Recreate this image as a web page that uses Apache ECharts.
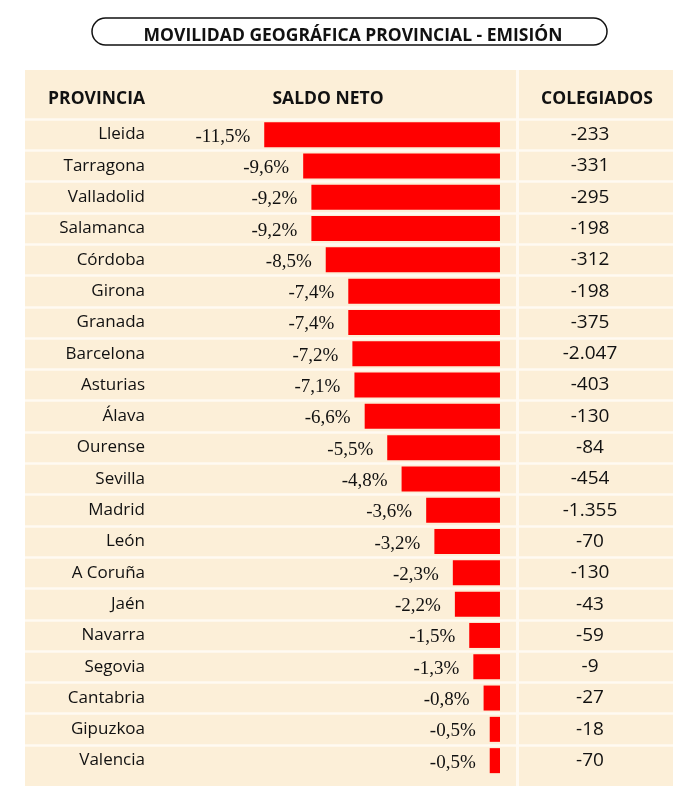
<!DOCTYPE html>
<html>
<head>
<meta charset="utf-8">
<script src="https://cdn.jsdelivr.net/npm/echarts@6/dist/echarts.min.js"></script>
<style>html,body{margin:0;padding:0;background:#fff}#c{width:700px;height:805px}</style>
</head>
<body>
<div id="c"></div>
<script>
const titulo = 'MOVILIDAD GEOGRÁFICA PROVINCIAL - EMISIÓN';
const cabeceras = ['PROVINCIA', 'SALDO NETO', 'COLEGIADOS'];
const provincias = ['Lleida','Tarragona','Valladolid','Salamanca','Córdoba','Girona','Granada','Barcelona','Asturias','Álava','Ourense','Sevilla','Madrid','León','A Coruña','Jaén','Navarra','Segovia','Cantabria','Gipuzkoa','Valencia'];
const saldoNeto = [-11.5,-9.6,-9.2,-9.2,-8.5,-7.4,-7.4,-7.2,-7.1,-6.6,-5.5,-4.8,-3.6,-3.2,-2.3,-2.2,-1.5,-1.3,-0.8,-0.5,-0.5];
const colegiados = [-233,-331,-295,-198,-312,-198,-375,-2047,-403,-130,-84,-454,-1355,-70,-130,-43,-59,-9,-27,-18,-70];

function fmtMiles(v) {
  const s = Math.abs(v).toString().replace(/\B(?=(\d{3})+(?!\d))/g, '.');
  return (v < 0 ? '-' : '') + s;
}
function fmtPct(v) { return v.toFixed(1).replace('.', ',') + '%'; }

const chart = echarts.init(document.getElementById('c'));
const sans = '"Open Sans", "Noto Sans", sans-serif';
const beige = '#fcefd8';

chart.setOption({
  animation: false,
  backgroundColor: '#ffffff',
  title: {
    text: titulo,
    left: 348, top: 31.5, textAlign: 'center', textVerticalAlign: 'middle',
    textStyle: { fontFamily: sans, fontWeight: 'bold', fontSize: 17.5, color: '#111' }
  },
  graphic: [
    { type: 'rect', z: -10, shape: { x: 92, y: 18, width: 515, height: 27, r: 13.5 },
      style: { fill: '#fff', stroke: '#111', lineWidth: 1.5 } },
    { type: 'rect', z: -10, shape: { x: 25, y: 70, width: 648, height: 716 },
      style: { fill: beige } },
    { type: 'rect', z: 5, shape: { x: 516, y: 70, width: 3, height: 716 },
      style: { fill: '#fffaf2' } },
    { type: 'text', z: 10, x: 145, y: 99, style: { text: cabeceras[0], align: 'right', verticalAlign: 'middle',
      font: 'bold 17.5px ' + sans, fill: '#111' } },
    { type: 'text', z: 10, x: 328, y: 99, style: { text: cabeceras[1], align: 'center', verticalAlign: 'middle',
      font: 'bold 17.5px ' + sans, fill: '#111' } },
    { type: 'text', z: 10, x: 597, y: 99, style: { text: cabeceras[2], align: 'center', verticalAlign: 'middle',
      font: 'bold 17.5px ' + sans, fill: '#111' } }
  ],
  grid: { left: 25, right: 27, top: 119, bottom: 28.7, containLabel: false },
  xAxis: {
    type: 'value', min: -23.17, max: 8.44, show: false
  },
  yAxis: [
    {
      type: 'category', data: provincias, inverse: true, position: 'left', offset: -120,
      axisLine: { show: false }, axisTick: { show: false },
      axisLabel: { margin: 0, align: 'right', padding: [6, 0, 0, 0], fontFamily: sans, fontSize: 17, color: '#111' },
      splitLine: { show: true, showMaxLine: false, lineStyle: { color: '#fffaf2', width: 2.5 } }
    },
    {
      type: 'category', data: colegiados.map(fmtMiles), inverse: true, position: 'right', offset: -83,
      axisLine: { show: false }, axisTick: { show: false },
      axisLabel: { margin: 0, align: 'center', padding: [6, 0, 0, 0], fontFamily: sans, fontSize: 19, color: '#111' },
      splitLine: { show: false }
    }
  ],
  series: [{
    type: 'bar', yAxisIndex: 0, data: saldoNeto, barWidth: 25,
    itemStyle: { color: '#ff0000' },
    label: {
      show: true, position: 'left', distance: 14, offset: [0, 2],
      formatter: p => fmtPct(p.value),
      fontFamily: '"Liberation Serif", "Times New Roman", serif', fontSize: 19, color: '#111'
    }
  }]
});
</script>
</body>
</html>
